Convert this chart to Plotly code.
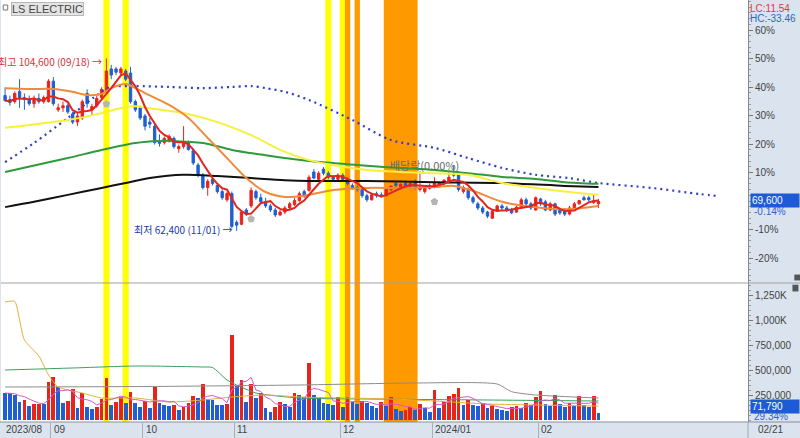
import plotly.graph_objects as go
import pandas as pd
import numpy as np

# ---------------- data ----------------
AUG23 = [18, 21, 22, 23, 24, 25, 28, 29, 30, 31]
SEP23 = [1, 4, 5, 6, 7, 8, 11, 12, 13, 14, 15, 18, 19, 20, 21, 22, 25, 26, 27]
OCT23 = [4, 5, 6, 10, 11, 12, 13, 16, 17, 18, 19, 20, 23, 24, 25, 26, 27, 30, 31]
NOV23 = [1, 2, 3, 6, 7, 8, 9, 10, 13, 14, 15, 16, 17, 20, 21, 22, 23, 24, 27, 28, 29, 30]
DEC23 = [1, 4, 5, 6, 7, 8, 11, 12, 13, 14, 15, 18, 19, 20, 21, 22, 26, 27, 28]
JAN24 = [2, 3, 4, 5, 8, 9, 10, 11, 12, 15, 16, 17, 18, 19, 22, 23, 24, 25, 26, 29, 30, 31]
FEB24 = [1, 2, 5, 6, 7, 8, 13, 14, 15, 16, 19, 20, 21]

opens = [95500, 94500, 94000, 96500, 95000, 94500, 93500, 94800, 94000, 94000,
         99000, 92000, 92500, 93000, 91000, 89000, 90000, 96000, 92000, 93000,
         95000, 96500, 102000, 102000, 101000, 101500, 101000, 94000, 92500, 90500,
         89000, 88000, 84500, 84000, 84500, 85000, 82500, 83000, 84000, 82000,
         78500, 76000, 73000, 75000, 73500, 72000, 70000, 71500, 64500, 64000,
         67500, 68500, 72000, 70500, 69500, 68500, 67500, 66300, 67000, 68000,
         68800, 69800, 72000, 72300, 76800, 75000, 77500, 76500, 75500, 75000,
         76000, 75000, 73500, 73000, 72500, 71000, 70000, 71500, 71200, 71000,
         72500, 74000, 73000, 74000, 73000, 74500, 72500, 72000, 72800, 73000,
         73500, 74000, 74500, 76500, 76500, 72000, 72500, 70500, 69000, 68000,
         67000, 65500, 67200, 68500, 68000, 67500, 67000, 68000, 70000, 69000,
         67500, 70200, 69500, 67500, 69000, 67500, 67500, 66500, 68000, 69000,
         70500, 70500, 69300, 69000]
highs = [97500, 95500, 96500, 99500, 96000, 95500, 95500, 96000, 95500, 99500,
         100000, 93500, 94000, 93500, 91500, 91500, 94500, 97000, 93500, 95500,
         97500, 104600, 103000, 102500, 102500, 102000, 102500, 94500, 93000, 91000,
         90000, 88500, 86000, 85500, 86000, 85500, 83500, 88000, 84500, 82500,
         79000, 76500, 75000, 76000, 74000, 72500, 72000, 72000, 65000, 67500,
         68000, 73000, 72500, 71500, 70500, 69000, 68000, 67500, 68500, 69500,
         70500, 72000, 72500, 76000, 77500, 77000, 78000, 77000, 76000, 76500,
         76500, 75500, 74000, 73500, 73000, 71500, 71500, 72000, 71800, 73000,
         73500, 74500, 74000, 74500, 74500, 75000, 77000, 73500, 74000, 75500,
         74500, 75000, 77000, 78500, 77000, 73500, 73000, 71000, 69500, 68500,
         67300, 67500, 68800, 69000, 68500, 68000, 68500, 70500, 70500, 69500,
         70800, 70500, 70000, 69500, 69300, 68000, 68000, 68500, 69500, 70000,
         71000, 71000, 71200, 70200]
lows = [94000, 93000, 93500, 92500, 92000, 93000, 92500, 93500, 93500, 93800,
        93000, 91500, 91500, 91000, 88500, 88000, 89500, 92500, 90500, 92500,
        94500, 96000, 99500, 100500, 100500, 99000, 93500, 91500, 89500, 87000,
        87500, 83500, 83000, 83500, 84000, 82500, 81500, 82500, 82000, 78500,
        75500, 72500, 71000, 73500, 71500, 70000, 69500, 63000, 62400, 63800,
        66000, 68000, 70000, 69000, 68000, 67000, 65800, 66000, 66500, 67500,
        68500, 69500, 70500, 72000, 75000, 74500, 76000, 75000, 74500, 74500,
        74500, 73500, 72500, 72000, 70500, 69500, 69800, 70500, 70500, 70800,
        72000, 73000, 72500, 73200, 72800, 72500, 72000, 71500, 72500, 72800,
        73000, 73500, 74000, 75500, 72000, 71500, 70000, 69000, 67500, 66500,
        65500, 65300, 67000, 67500, 67000, 66500, 66800, 67800, 68500, 67500,
        67300, 68500, 67200, 67200, 66000, 66300, 66000, 66200, 67800, 68800,
        69800, 69500, 69000, 68000]
closes = [94300, 93800, 96000, 95000, 94500, 93500, 94800, 94000, 95000, 99000,
          93500, 92500, 93000, 91500, 89000, 90500, 94000, 93500, 92800, 94800,
          97000, 101500, 100500, 101200, 102000, 99500, 94000, 92000, 90000, 88000,
          88500, 84000, 83800, 85000, 85500, 83000, 83000, 84000, 82300, 79000,
          76000, 73000, 74500, 74000, 72000, 70500, 71500, 63500, 63800, 67000,
          66500, 72300, 70500, 69500, 68500, 67500, 66300, 67000, 68000, 69000,
          69800, 71500, 70800, 75500, 75300, 76500, 76500, 75500, 75000, 76000,
          75000, 74000, 72800, 72500, 71000, 70000, 71200, 71000, 71000, 72500,
          73300, 73500, 73800, 73500, 74000, 73000, 73000, 73000, 73500, 74000,
          74200, 74800, 75500, 76000, 72500, 73000, 70500, 69500, 68000, 67000,
          66000, 67200, 68500, 68000, 67500, 66800, 68200, 70000, 69000, 68000,
          70500, 69000, 67500, 69000, 66500, 66800, 66500, 68000, 69000, 69800,
          70000, 70000, 69700, 69600]
volumes = [270000, 270000, 250000, 183000, 200000, 140000, 160000, 162000, 158000, 383000,
           433000, 327000, 167000, 193000, 307000, 117000, 267000, 127000, 110000, 130000,
           207000, 423000, 150000, 183000, 227000, 167000, 277000, 173000, 133000, 193000,
           123000, 327000, 167000, 150000, 140000, 150000, 100000, 127000, 167000, 240000,
           217000, 360000, 207000, 200000, 150000, 148000, 160000, 850000, 340000, 400000,
           183000, 360000, 217000, 267000, 117000, 80000, 133000, 183000, 160000, 130000,
           273000, 250000, 230000, 573000, 250000, 233000, 167000, 157000, 150000, 227000,
           133000, 227000, 183000, 160000, 193000, 167000, 140000, 117000, 183000, 140000,
           227000, 110000, 90000, 100000, 130000, 100000, 160000, 120000, 80000, 300000,
           117000, 180000, 240000, 257000, 323000, 150000, 200000, 150000, 140000, 170000,
           120000, 145000, 110000, 100000, 95000, 130000, 140000, 120000, 167000, 150000,
           233000, 293000, 160000, 140000, 250000, 160000, 130000, 170000, 140000, 243000,
           150000, 130000, 244700, 71790]

# moving-average lines (day index, value)
ma20_i = [0, 5, 10, 14, 17, 20, 22, 25, 27, 29, 34, 38, 42, 46, 50, 54, 58, 62, 68, 75, 82, 89, 93, 97, 103, 110, 116, 123]
ma20_v = [97300, 97100, 97100, 96400, 95600, 95900, 97300, 98300, 97300, 96100, 93200, 90000, 85100, 80200,
          75300, 71900, 70700, 71000, 72400, 72900, 72900, 73100, 73400, 72200, 69500, 68200, 67700, 68500]
ma60_i = [0, 13, 20, 25, 27, 30, 37, 44, 51, 58, 63, 68, 75, 82, 89, 96, 103, 110, 117, 123]
ma60_v = [87600, 89500, 91200, 92700, 92900, 92400, 91200, 89000, 85800, 81700, 79700, 78500, 77300, 76800,
          76500, 76100, 74100, 72900, 71900, 71200]
ma120_i = [0, 13, 20, 27, 32, 34, 41, 47, 54, 63, 68, 75, 82, 89, 96, 103, 110, 116, 123]
ma120_v = [76800, 80200, 82200, 83900, 84400, 84400, 83900, 82200, 80900, 79500, 79000, 78300, 77800, 77300,
           76500, 75600, 75100, 74300, 73900]
ma240_i = [0, 6, 13, 20, 25, 30, 37, 44, 51, 58, 63, 75, 89, 103, 116, 123]
ma240_v = [68200, 69500, 71200, 72900, 74100, 75300, 76100, 75800, 75300, 74800, 74600, 74600, 74300, 74100,
           73400, 73100]
span_i = [0, 6, 13, 20, 22, 27, 34, 41, 47, 51, 54, 58, 63, 72, 80, 89, 96, 103, 110, 117, 123, 134, 144, 148]
span_v = [79200, 83900, 90000, 96400, 97600, 97800, 97600, 97300, 97600, 97800, 97300, 96400, 94400, 89500,
          84600, 82700, 80200, 77800, 76100, 75300, 74100, 72900, 71400, 70900]

# volume average lines
vma_a_i = [0, 2, 3, 4, 7, 9, 11, 16, 20, 27, 34, 41, 47, 54, 61, 70, 80, 89, 100, 110, 123]
vma_a_v = [1180000, 1185000, 1000000, 800000, 640000, 450000, 330000, 270000, 220000, 220000, 180000,
           200000, 230000, 250000, 230000, 220000, 210000, 190000, 160000, 150000, 140000]
vma_b_i = [0, 14, 27, 41, 43, 46, 48, 52, 61, 75, 100, 123]
vma_b_v = [500000, 520000, 540000, 530000, 525000, 400000, 350000, 270000, 220000, 210000, 200000, 190000]
vma_c_i = [0, 30, 61, 85, 102, 105, 110, 123]
vma_c_v = [330000, 335000, 350000, 370000, 360000, 283000, 250000, 220000]

mark_i = [21, 51, 89]
mark_v = [93400, 65300, 69500]

yellow_days = [21, 25, 67, 70]
orange_days = [71, 73]
orange_span = [79, 85]

BASE = 69700           # reference price for percent axis
pct_ticks = [-20, -10, 10, 20, 30, 40, 50, 60]
vol_ticks = [250000, 500000, 750000, 1000000, 1250000]
vol_tick_text = ["250,000", "500,000", "750,000", "1,000K", "1,250K"]
month_text = ["2023/08", "09", "10", "11", "12", "2024/01", "02"]

# ---------------- build ----------------
dates = ([f"2023-08-{d:02d}" for d in AUG23] + [f"2023-09-{d:02d}" for d in SEP23] +
         [f"2023-10-{d:02d}" for d in OCT23] + [f"2023-11-{d:02d}" for d in NOV23] +
         [f"2023-12-{d:02d}" for d in DEC23] + [f"2024-01-{d:02d}" for d in JAN24] +
         [f"2024-02-{d:02d}" for d in FEB24])
n = len(dates)
idx = list(range(n))
months = [d[:7] for d in dates]
month_starts = [i for i in idx if i == 0 or months[i] != months[i - 1]]

RED = "#e8231c"
BLUE = "#1f5fd1"
vol_colors = [BLUE] + [RED if volumes[i] > volumes[i - 1] else BLUE for i in range(1, n)]
ma5 = pd.Series(closes).rolling(5, min_periods=1).mean()
vma5 = pd.Series(volumes).rolling(5, min_periods=1).mean()

fig = go.Figure()

# volume panel
fig.add_trace(go.Bar(x=idx, y=volumes, marker=dict(color=vol_colors, line=dict(width=0)),
                     width=0.78, xaxis="x", yaxis="y2", showlegend=False))
for xs, ys, col in [(vma_c_i, vma_c_v, "#8c8c8c"), (vma_b_i, vma_b_v, "#3b9f5c"),
                    (vma_a_i, vma_a_v, "#e0b13a")]:
    fig.add_trace(go.Scatter(x=xs, y=ys, mode="lines", line=dict(color=col, width=1, shape="spline", smoothing=0.6),
                             xaxis="x", yaxis="y2", showlegend=False, hoverinfo="skip"))
fig.add_trace(go.Scatter(x=idx, y=vma5, mode="lines", line=dict(color="#d45ad4", width=1),
                         xaxis="x", yaxis="y2", showlegend=False, hoverinfo="skip"))

# price panel lines
fig.add_trace(go.Scatter(x=span_i, y=span_v, mode="lines",
                         line=dict(color="#2f3fc4", width=2.2, dash="2px,4px", shape="spline", smoothing=0.8),
                         xaxis="x", yaxis="y", showlegend=False, hoverinfo="skip"))
for xs, ys, col, w in [(ma240_i, ma240_v, "#111111", 2), (ma120_i, ma120_v, "#2e9a3c", 2),
                       (ma60_i, ma60_v, "#f7f03c", 2), (ma20_i, ma20_v, "#f08a3c", 2)]:
    fig.add_trace(go.Scatter(x=xs, y=ys, mode="lines", line=dict(color=col, width=w, shape="spline", smoothing=0.8),
                             xaxis="x", yaxis="y", showlegend=False, hoverinfo="skip"))
fig.add_trace(go.Scatter(x=idx, y=ma5, mode="lines", line=dict(color="#e2261e", width=2),
                         xaxis="x", yaxis="y", showlegend=False, hoverinfo="skip"))

fig.add_trace(go.Candlestick(x=idx, open=opens, high=highs, low=lows, close=closes,
                             increasing=dict(line=dict(color=RED, width=1), fillcolor=RED),
                             decreasing=dict(line=dict(color=BLUE, width=1), fillcolor=BLUE),
                             whiskerwidth=0, xaxis="x", yaxis="y", showlegend=False))
fig.add_trace(go.Scatter(x=mark_i, y=mark_v, mode="markers",
                         marker=dict(symbol="pentagon", size=8, color="#b5b5b5"),
                         xaxis="x", yaxis="y", showlegend=False, hoverinfo="skip"))

# ---------------- layout ----------------
H_PLOT = 422.0
split = 1 - 283 / H_PLOT
shapes = []
for d in yellow_days:
    shapes.append(dict(type="rect", xref="x", yref="paper", x0=d - 0.62, x1=d + 0.62, y0=0, y1=1,
                       fillcolor="#ffff00", line=dict(width=0), layer="below"))
for d in orange_days:
    shapes.append(dict(type="rect", xref="x", yref="paper", x0=d - 0.55, x1=d + 0.55, y0=0, y1=1,
                       fillcolor="#ff9900", line=dict(width=0), layer="below"))
shapes.append(dict(type="rect", xref="x", yref="paper", x0=orange_span[0] - 0.5, x1=orange_span[1] + 0.5,
                   y0=0, y1=1, fillcolor="#ff9900", line=dict(width=0), layer="below"))
# panel separators
shapes.append(dict(type="line", xref="paper", yref="paper", x0=0, x1=1.07, y0=split, y1=split,
                   line=dict(color="#a0a0a0", width=1)))
shapes.append(dict(type="line", xref="paper", yref="paper", x0=-0.01, x1=1.07, y0=0, y1=0,
                   line=dict(color="#8a8f96", width=1)))
shapes.append(dict(type="line", xref="paper", yref="paper", x0=1, x1=1, y0=-0.05, y1=0,
                   line=dict(color="#a0a8b4", width=1)))
# small icons
shapes.append(dict(type="rect", xref="paper", yref="paper", x0=1.0595, x1=1.0675, y0=split - 0.004, y1=split - 0.02,
                   fillcolor="#555", line=dict(width=0)))
shapes.append(dict(type="rect", xref="paper", yref="paper", x0=1.062, x1=1.070, y0=split + 0.006, y1=split + 0.02,
                   fillcolor="#555", line=dict(width=0)))
shapes.append(dict(type="rect", xref="paper", yref="paper", x0=0.003, x1=0.009, y0=1 - 5 / H_PLOT,
                   y1=1 - 10 / H_PLOT, fillcolor="#ffffff", line=dict(color="#777", width=1)))

FONT = "Liberation Sans, Arial, sans-serif"
KFONT = "Noto Sans CJK KR, sans-serif"
ann = []
for k, s in enumerate(month_starts):
    ann.append(dict(xref="x", yref="paper", x=s - 0.5, y=0, xanchor="left", yanchor="top", xshift=1, yshift=0,
                    text=month_text[k], showarrow=False, font=dict(family=FONT, size=10, color="#444")))
ann.append(dict(xref="paper", yref="paper", x=1, y=0, xanchor="left", yanchor="top", xshift=8, yshift=0,
                text=dates[-1][5:7] + "/" + dates[-1][8:10], showarrow=False, font=dict(family=FONT, size=10, color="#444")))
ann.append(dict(xref="paper", yref="paper", x=10 / 747, y=1 - 2 / H_PLOT, xanchor="left", yanchor="top",
                text="LS ELECTRIC", showarrow=False, bgcolor="#e4e4e4", bordercolor="#b8b8b8", borderwidth=1,
                borderpad=0, font=dict(family=FONT, size=11, color="#444")))
ann.append(dict(xref="paper", yref="paper", x=1, y=1 - 1 / H_PLOT, xanchor="left", yanchor="top", xshift=0,
                text="LC:11.54", showarrow=False, font=dict(family=FONT, size=10, color="#e03a3a")))
ann.append(dict(xref="paper", yref="paper", x=1, y=1 - 11 / H_PLOT, xanchor="left", yanchor="top", xshift=0,
                text="HC:-33.46", showarrow=False, font=dict(family=FONT, size=10, color="#2f63c9")))
ann.append(dict(xref="paper", yref="y", x=1, y=closes[-1], xanchor="left", yanchor="middle", xshift=2, yshift=1,
                text=f"{closes[-1]:,}", showarrow=False, bgcolor="#1d5bd6", width=46, align="left",
                font=dict(family=FONT, size=10, color="white")))
ann.append(dict(xref="paper", yref="y", x=1, y=closes[-1], xanchor="left", yanchor="middle", xshift=4, yshift=-10,
                text=f"{(closes[-1] / closes[-2] - 1) * 100:.2f}%", showarrow=False,
                font=dict(family=FONT, size=10, color="#2f63c9")))
ann.append(dict(xref="paper", yref="y2", x=1, y=volumes[-1], xanchor="left", yanchor="middle", xshift=2, yshift=6,
                text=f"{volumes[-1]:,}", showarrow=False, bgcolor="#1d5bd6", width=46, align="left",
                font=dict(family=FONT, size=10, color="white")))
ann.append(dict(xref="paper", yref="y2", x=1, y=volumes[-1], xanchor="left", yanchor="middle", xshift=4, yshift=-4,
                text=f"{volumes[-1] / volumes[-2] * 100:.2f}%", showarrow=False,
                font=dict(family=FONT, size=10, color="#2f63c9")))
hi = int(np.argmax(highs))
lo = int(np.argmin(lows))
ann.append(dict(xref="x", yref="y", x=hi, y=highs[hi], xanchor="right", yanchor="middle", xshift=-2, yshift=-3,
                text=f"최고 {highs[hi]:,} ({dates[hi][5:7]}/{dates[hi][8:10]}) →", showarrow=False,
                font=dict(family=KFONT, size=10, color="#d8303a")))
ann.append(dict(xref="x", yref="y", x=lo, y=lows[lo], xanchor="right", yanchor="middle", xshift=-2, yshift=1,
                text=f"최저 {lows[lo]:,} ({dates[lo][5:7]}/{dates[lo][8:10]}) →", showarrow=False,
                font=dict(family=KFONT, size=10, color="#2038b0")))
ann.append(dict(xref="x", yref="y", x=87, y=78500, xanchor="center", yanchor="middle",
                text="배당락(0.00%)", showarrow=False, font=dict(family=KFONT, size=11, color="#6a6a6a")))

price_top = BASE * (1 + 70.53 / 100)
price_bot = BASE * (1 - 28.77 / 100)

fig.update_layout(
    width=800, height=438,
    margin=dict(l=1, r=52, t=0, b=16),
    paper_bgcolor="#dae3ee", plot_bgcolor="white",
    bargap=0, showlegend=False,
    shapes=shapes, annotations=ann,
    font=dict(family=FONT, size=10, color="#444"),
    xaxis=dict(domain=[0, 1], range=[-0.85, 154.0], anchor="y2", showgrid=False, zeroline=False,
               rangeslider=dict(visible=False), showticklabels=False,
               tickmode="array", tickvals=[s - 0.5 for s in month_starts[1:]], ticks="outside",
               ticklen=16, tickcolor="#a8b0bc", showline=False),
    yaxis=dict(domain=[split, 1], range=[price_bot, price_top], side="right", anchor="x",
               showgrid=False, zeroline=False, showline=True, linecolor="#8a8a8a",
               tickmode="array", tickvals=[BASE * (1 + p / 100) for p in pct_ticks],
               ticktext=[f"{p}%" for p in pct_ticks], ticks="outside", ticklen=4, tickcolor="#777",
               minor=dict(ticks="outside", ticklen=2, tickcolor="#999", dtick=BASE * 0.02, tick0=BASE),
               tickfont=dict(family=FONT, size=10, color="#444")),
    yaxis2=dict(domain=[0, split], range=[-20000, 1370000], side="right", anchor="x",
                showgrid=False, zeroline=False, showline=True, linecolor="#8a8a8a",
                tickmode="array", tickvals=vol_ticks, ticktext=vol_tick_text, ticks="outside",
                ticklen=4, tickcolor="#777",
                minor=dict(ticks="outside", ticklen=2, tickcolor="#999", dtick=50000, tick0=0),
                tickfont=dict(family=FONT, size=10, color="#444")),
)

fig.write_html("out.html", config={"displayModeBar": False},
               post_script="document.body.style.margin='0px';document.body.style.overflow='hidden';")
